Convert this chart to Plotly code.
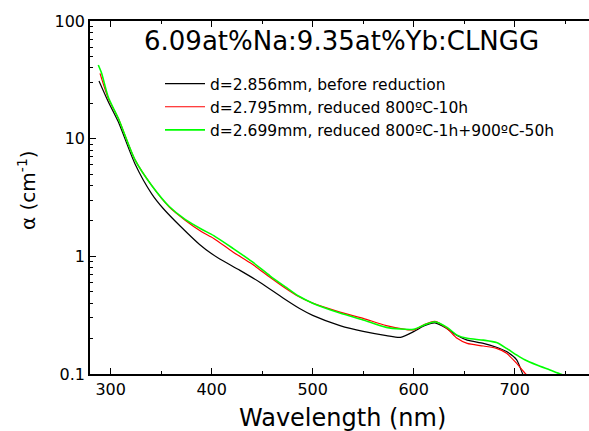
import plotly.graph_objects as go

# ---- data ----
wl_before = [288.4, 297.6, 307.5, 324.1, 340.6, 352, 369, 388, 400, 408, 428, 448, 471, 487, 500,
             527, 550, 573, 587, 600, 610, 621, 633, 643, 653, 669, 682, 692, 702, 708, 711]
a_before = [30.9, 20.6, 13.9, 6.1, 3.4, 2.55, 1.8, 1.26, 1.05, 0.95, 0.76, 0.60, 0.44, 0.36, 0.315,
            0.258, 0.230, 0.212, 0.205, 0.229, 0.256, 0.272, 0.243, 0.212, 0.194, 0.182, 0.169, 0.155, 0.132, 0.100, 0.092]

wl_red = [289.4, 297.6, 307.5, 324.1, 340.6, 358, 374, 390, 402, 421, 440, 458, 473, 486, 500,
          527, 550, 573, 600, 610, 621, 633, 643, 653, 669, 682, 692, 702, 710, 714]
a_red = [35.9, 22.0, 14.9, 6.6, 4.0, 2.62, 2.02, 1.62, 1.42, 1.09, 0.86, 0.66, 0.535, 0.455, 0.40,
         0.336, 0.297, 0.258, 0.237, 0.262, 0.280, 0.244, 0.201, 0.182, 0.173, 0.165, 0.150, 0.123, 0.102, 0.095]

wl_green = [287.7, 291, 297.6, 307.5, 324.1, 340.6, 358, 374, 390, 402, 421, 440, 458, 473, 486, 500,
            527, 550, 573, 600, 610, 621, 633, 643, 653, 669, 682, 692, 702, 710, 722, 735, 745, 750]
a_green = [42.3, 36.0, 22.5, 14.9, 6.6, 4.0, 2.65, 2.05, 1.70, 1.50, 1.17, 0.90, 0.68, 0.55, 0.46, 0.40,
           0.33, 0.288, 0.249, 0.240, 0.260, 0.278, 0.249, 0.214, 0.201, 0.194, 0.185, 0.165, 0.145, 0.132, 0.119, 0.108, 0.100, 0.097]

names = ["d=2.856mm, before reduction",
         "d=2.795mm, reduced 800ºC-10h",
         "d=2.699mm, reduced 800ºC-1h+900ºC-50h"]
title_text = "6.09at%Na:9.35at%Yb:CLNGG"

FONT = "DejaVu Sans"

fig = go.Figure()
fig.add_trace(go.Scatter(x=wl_before, y=a_before, mode="lines", name=names[0],
                         line=dict(color="black", width=1.2, shape="spline", smoothing=0.7)))
fig.add_trace(go.Scatter(x=wl_red, y=a_red, mode="lines", name=names[1],
                         line=dict(color="#ff0000", width=1.2, shape="spline", smoothing=0.7)))
fig.add_trace(go.Scatter(x=wl_green, y=a_green, mode="lines", name=names[2],
                         line=dict(color="#00ff00", width=1.6, shape="spline", smoothing=0.7)))

W, H = 589, 431
L, R, T, B = 90, 0, 21, 57
pw, ph = W - L - R, H - T - B

def px_x(p):
    return (p - L) / pw

def px_y(p):
    return (H - B - p) / ph

fig.update_layout(
    width=W, height=H,
    margin=dict(l=L, r=R, t=T, b=B, pad=0),
    paper_bgcolor="white", plot_bgcolor="white",
    font=dict(family=FONT, color="black"),
    showlegend=True,
    legend=dict(x=px_x(160), y=px_y(67), xanchor="left", yanchor="top",
                bgcolor="rgba(0,0,0,0)", font=dict(size=15.5, family=FONT),
                itemwidth=40, tracegroupgap=0),
    xaxis=dict(range=[279.5, 773.6], dtick=100, tick0=0, ticks="inside", ticklen=6,
               tickwidth=1.2, tickcolor="black", showline=True, linewidth=1.5, linecolor="black",
               mirror="allticks", showgrid=False, zeroline=False,
               tickfont=dict(size=16, family=FONT),
               minor=dict(dtick=50, tick0=0, ticks="inside", ticklen=3, tickcolor="black", showgrid=False)),
    yaxis=dict(type="log", range=[-1, 2], dtick=1, ticks="inside", ticklen=6,
               tickwidth=1.2, tickcolor="black", showline=True, linewidth=1.5, linecolor="black",
               mirror=False, showgrid=False, zeroline=False,
               tickfont=dict(size=16, family=FONT),
               minor=dict(dtick="D1", ticks="inside", ticklen=3, tickcolor="black", showgrid=False)),
    annotations=[
        dict(text=title_text, xref="paper", yref="paper", x=px_x(341), y=px_y(41),
             xanchor="center", yanchor="middle", showarrow=False, font=dict(size=26, family=FONT)),
        dict(text="Wavelength (nm)", xref="paper", yref="paper", x=px_x(342), y=px_y(418),
             xanchor="center", yanchor="middle", showarrow=False, font=dict(size=24, family=FONT)),
        dict(text="α (cm<sup>-1</sup>)", xref="paper", yref="paper", x=px_x(27), y=px_y(190),
             xanchor="center", yanchor="middle", textangle=-90, showarrow=False,
             font=dict(size=20, family=FONT)),
    ],
)

fig.write_html("out.html")
